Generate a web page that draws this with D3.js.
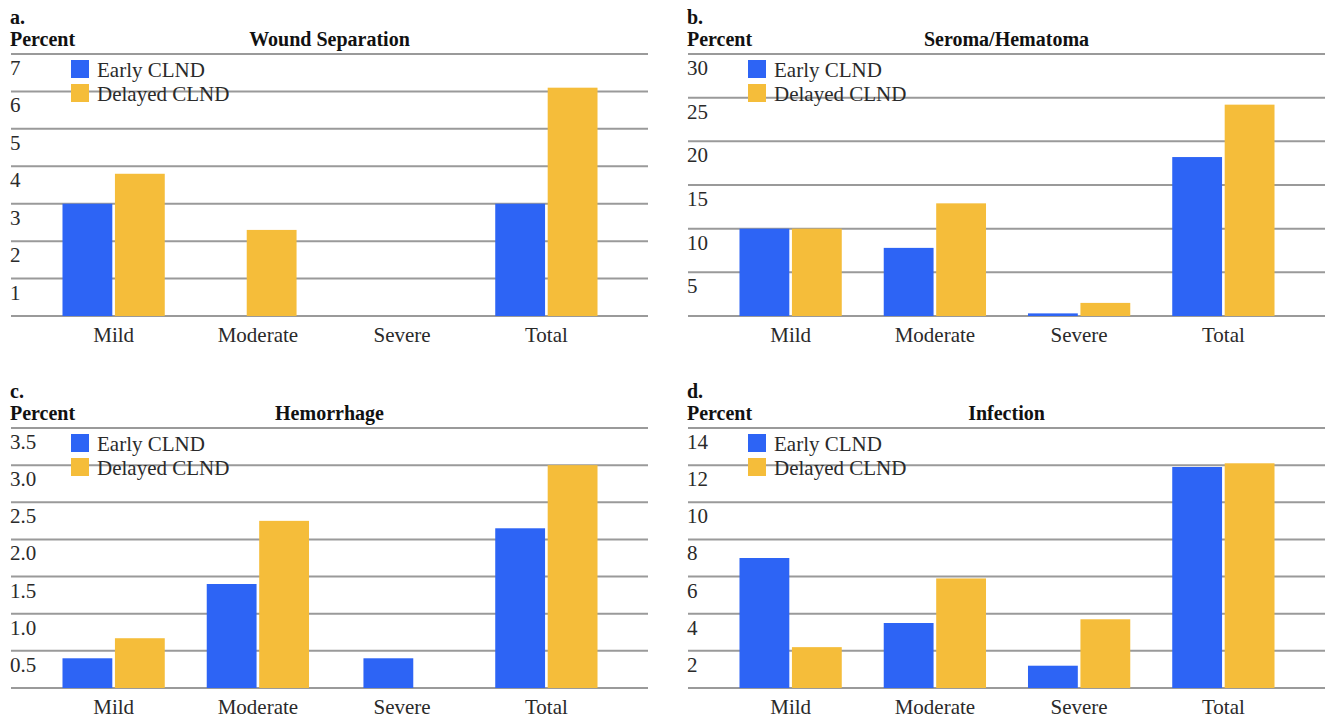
<!DOCTYPE html>
<html>
<head>
<meta charset="utf-8">
<script src="https://cdn.jsdelivr.net/npm/d3@7"></script>
<style>
  html, body { margin: 0; padding: 0; background: #fff; }
  svg { display: block; }
  svg text { font-family: "Liberation Serif", "Times New Roman", serif; }
</style>
</head>
<body>
<svg id="chart" width="1326" height="720"></svg>
<script>
// Complication rates (%) by severity, early vs delayed CLND
const categories = ["Mild", "Moderate", "Severe", "Total"];
const seriesNames = ["Early CLND", "Delayed CLND"];
const seriesColors = ["#2d64f5", "#f5bd3a"];

const woundEarly = [3.0, 0, 0, 3.0];
const woundDelayed = [3.8, 2.3, 0, 6.1];
const woundTicks = [1, 2, 3, 4, 5, 6, 7];

const seromaEarly = [10.0, 7.8, 0.3, 18.2];
const seromaDelayed = [10.0, 12.9, 1.5, 24.2];
const seromaTicks = [5, 10, 15, 20, 25, 30];

const hemorrhageEarly = [0.4, 1.4, 0.4, 2.15];
const hemorrhageDelayed = [0.67, 2.25, 0, 3.0];
const hemorrhageTicks = [0.5, 1.0, 1.5, 2.0, 2.5, 3.0, 3.5];

const infectionEarly = [7.0, 3.5, 1.2, 11.9];
const infectionDelayed = [2.2, 5.9, 3.7, 12.1];
const infectionTicks = [2, 4, 6, 8, 10, 12, 14];

const panels = [
  { letter: "a.", title: "Wound Separation", early: woundEarly, delayed: woundDelayed,
    ticks: woundTicks, max: 7, fmt: d3.format("d"), x0: 0, top: 54, base: 316 },
  { letter: "b.", title: "Seroma/Hematoma", early: seromaEarly, delayed: seromaDelayed,
    ticks: seromaTicks, max: 30, fmt: d3.format("d"), x0: 677, top: 54, base: 316 },
  { letter: "c.", title: "Hemorrhage", early: hemorrhageEarly, delayed: hemorrhageDelayed,
    ticks: hemorrhageTicks, max: 3.5, fmt: d3.format(".1f"), x0: 0, top: 428, base: 688 },
  { letter: "d.", title: "Infection", early: infectionEarly, delayed: infectionDelayed,
    ticks: infectionTicks, max: 14, fmt: d3.format("d"), x0: 677, top: 428, base: 688 }
];

const svg = d3.select("#chart");
const gridColor = "#9a9a9a";
const textColor = "#2a2a2a";
const serif = "Liberation Serif, Times New Roman, serif";

panels.forEach(p => {
  const g = svg.append("g").attr("font-family", serif);
  const left = p.x0 + 11, right = p.x0 + 648;

  const y = d3.scaleLinear().domain([0, p.max]).range([p.base, p.top]);
  const x = d3.scaleBand().domain(categories)
    .range([p.x0 + 41.5, p.x0 + 618.5]).paddingInner(0.291).paddingOuter(0.1455);
  const xs = d3.scaleBand().domain(seriesNames).range([0, x.bandwidth()]).paddingInner(0.05);

  // horizontal gridlines (including baseline)
  const gridVals = [0].concat(p.ticks);
  g.append("g").selectAll("line").data(gridVals).join("line")
    .attr("x1", left).attr("x2", right)
    .attr("y1", d => y(d)).attr("y2", d => y(d))
    .attr("stroke", gridColor).attr("stroke-width", 2);

  // y tick labels sit just below their gridline
  g.append("g").selectAll("text").data(p.ticks).join("text")
    .attr("x", p.x0 + 10).attr("y", d => y(d) + 21)
    .attr("font-size", 21).attr("fill", textColor)
    .text(d => p.fmt(d));

  // bars; a lone bar in a group is nudged toward the group centre
  const rows = categories.map((c, i) => ({ cat: c, vals: [p.early[i], p.delayed[i]] }));
  const grp = g.append("g").selectAll("g").data(rows).join("g")
    .attr("transform", d => `translate(${x(d.cat)},0)`);
  grp.selectAll("rect")
    .data(d => d.vals.map((v, j) => ({ v, s: seriesNames[j], j, lone: d.vals[1 - j] === 0 })))
    .join("rect")
    .filter(d => d.v > 0)
    .attr("x", d => xs(d.s) + (d.lone ? (d.j === 0 ? 1 : -1) * xs.bandwidth() / 4 : 0))
    .attr("width", xs.bandwidth())
    .attr("y", d => y(d.v))
    .attr("height", d => y(0) - y(d.v))
    .attr("fill", d => seriesColors[d.j]);

  // category labels
  g.append("g").selectAll("text").data(categories).join("text")
    .attr("x", d => x(d) + x.bandwidth() / 2).attr("y", p.base + 26)
    .attr("text-anchor", "middle").attr("font-size", 21).attr("fill", textColor)
    .text(d => d);

  // headers
  g.append("text").attr("x", p.x0 + 10).attr("y", p.top - 30)
    .attr("font-size", 20).attr("font-weight", "bold").attr("fill", "#111")
    .text(p.letter);
  g.append("text").attr("x", p.x0 + 10).attr("y", p.top - 8)
    .attr("font-size", 20).attr("font-weight", "bold").attr("fill", "#111")
    .text("Percent");
  g.append("text").attr("x", (left + right) / 2).attr("y", p.top - 8)
    .attr("text-anchor", "middle")
    .attr("font-size", 20).attr("font-weight", "bold").attr("fill", "#111")
    .text(p.title);

  // legend
  const lg = g.append("g").attr("transform", `translate(${p.x0 + 71},${p.top + 6})`);
  seriesNames.forEach((s, i) => {
    lg.append("rect").attr("x", 0).attr("y", i * 24).attr("width", 18).attr("height", 18)
      .attr("fill", seriesColors[i]);
    lg.append("text").attr("x", 26).attr("y", i * 24 + 17)
      .attr("font-size", 21).attr("fill", textColor).text(s);
  });
});
</script>
</body>
</html>
